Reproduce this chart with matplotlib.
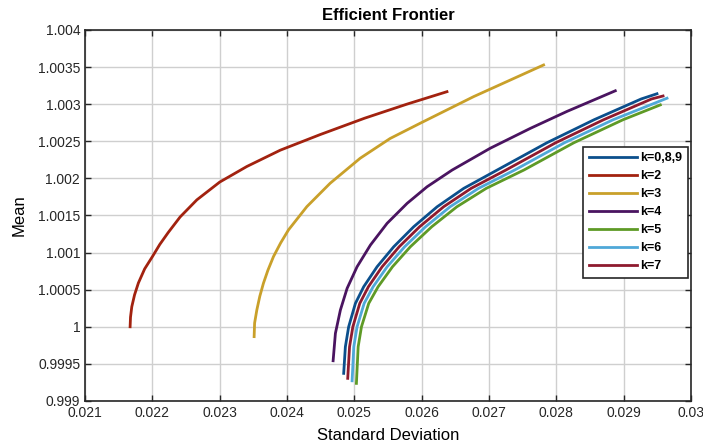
import matplotlib.pyplot as plt
from matplotlib.ticker import FuncFormatter, MultipleLocator

plt.rcParams['font.family'] = ['Liberation Sans', 'DejaVu Sans']

# efficient frontiers (std, mean)
std_k089 = [0.024841, 0.024866, 0.024915, 0.025015, 0.025138, 0.025337, 0.025584, 0.025881, 0.026229,
            0.026624, 0.02712, 0.02786, 0.02856, 0.02926, 0.029494]
mean_k089 = [0.999372, 0.99973, 1.0, 1.000315, 1.000539, 1.000809, 1.001078, 1.001348, 1.001617,
             1.001865, 1.002112, 1.00248, 1.00279, 1.00307, 1.00314]

std_k2 = [0.021669, 0.021675, 0.021694, 0.021735, 0.021792, 0.021885, 0.022, 0.02211, 0.022235,
          0.022412, 0.02266, 0.023, 0.023403, 0.0239, 0.024492, 0.02515, 0.02578, 0.026375]
mean_k2 = [1.0, 1.00013, 1.00027, 1.00043, 1.00059, 1.00078, 1.000945, 1.00111, 1.00127,
           1.00148, 1.00171, 1.00195, 1.00216, 1.00238, 1.00259, 1.00281, 1.003, 1.003168]

std_k3 = [0.023511, 0.023518, 0.023551, 0.023595, 0.023649, 0.023715, 0.023798, 0.023905, 0.024021,
          0.024294, 0.02464, 0.025086, 0.02553, 0.025978, 0.02677, 0.02781]
mean_k3 = [0.999867, 1.00005, 1.000226, 1.00041, 1.000586, 1.00076, 1.000945, 1.00113, 1.001305,
           1.001619, 1.001934, 1.002271, 1.002537, 1.002743, 1.003101, 1.003528]

std_k4 = [0.024684, 0.024718, 0.024792, 0.024892, 0.02504, 0.025238, 0.025486, 0.025783, 0.02608,
          0.026452, 0.027018, 0.027612, 0.028157, 0.028875]
mean_k4 = [0.999542, 0.999911, 1.000225, 1.000518, 1.000809, 1.001101, 1.001394, 1.001663, 1.001887,
           1.002112, 1.002406, 1.002673, 1.002902, 1.00318]

std_k5 = [0.02503, 0.025056, 0.025105, 0.025213, 0.025352, 0.025566, 0.025831, 0.026149, 0.026522,
          0.026958, 0.027517, 0.02826, 0.02899, 0.029544]
mean_k5 = [0.999237, 0.99973, 1.0, 1.000315, 1.000539, 1.000809, 1.001078, 1.001348, 1.001617,
           1.001865, 1.002112, 1.00248, 1.00279, 1.00299]

std_k6 = [0.024966, 0.024991, 0.02504, 0.025145, 0.025278, 0.025487, 0.025746, 0.026057, 0.026421,
          0.026843, 0.02738, 0.02812, 0.028843, 0.029643]
mean_k6 = [0.999272, 0.99973, 1.0, 1.000315, 1.000539, 1.000809, 1.001078, 1.001348, 1.001617,
           1.001865, 1.002112, 1.00248, 1.00279, 1.00308]

std_k7 = [0.024901, 0.024928, 0.024977, 0.02508, 0.025208, 0.025412, 0.025665, 0.025969, 0.026325,
          0.026734, 0.02725, 0.02799, 0.028701, 0.029414, 0.029584]
mean_k7 = [0.999305, 0.99973, 1.0, 1.000315, 1.000539, 1.000809, 1.001078, 1.001348, 1.001617,
           1.001865, 1.002112, 1.00248, 1.00279, 1.00307, 1.00311]

fig = plt.figure(figsize=(7.03, 4.47), dpi=100)
ax = fig.add_axes([0.121, 0.103, 0.862, 0.830])

lw = 2.0
ax.plot(std_k089, mean_k089, color='#0B4F8C', lw=lw, label='k=0,8,9')
ax.plot(std_k2, mean_k2, color='#A2220F', lw=lw, label='k=2')
ax.plot(std_k3, mean_k3, color='#C9A02A', lw=lw, label='k=3')
ax.plot(std_k4, mean_k4, color='#4A1460', lw=lw, label='k=4')
ax.plot(std_k5, mean_k5, color='#5E9A26', lw=lw, label='k=5')
ax.plot(std_k6, mean_k6, color='#4FA8D8', lw=lw, label='k=6')
ax.plot(std_k7, mean_k7, color='#8E1A2E', lw=lw, label='k=7')

ax.set_xlim(0.021, 0.030)
ax.set_ylim(0.999, 1.004)
ax.xaxis.set_major_locator(MultipleLocator(0.001))
ax.yaxis.set_major_locator(MultipleLocator(0.0005))
fmt = FuncFormatter(lambda v, p: '{:g}'.format(round(v, 6)))
ax.xaxis.set_major_formatter(fmt)
ax.yaxis.set_major_formatter(fmt)
ax.tick_params(direction='in', length=4, width=1, top=True, right=True, labelsize=10, colors='#262626')
ax.grid(True, color='#cfcfcf', lw=1)
ax.set_axisbelow(True)
for s in ax.spines.values():
    s.set_color('#262626')
    s.set_linewidth(1.2)

ax.set_title('Efficient Frontier', fontsize=12, fontweight='bold', pad=7)
ax.set_xlabel('Standard Deviation', fontsize=12, labelpad=6)
ax.set_ylabel('Mean', fontsize=12, labelpad=8)

leg = ax.legend(loc='upper right', bbox_to_anchor=(0.995, 0.685), fontsize=9, fancybox=False,
                framealpha=1, edgecolor='#262626', handlelength=3.85, handletextpad=0.3,
                labelspacing=0.48, borderpad=0.45, borderaxespad=0)
leg.get_frame().set_linewidth(1.2)
for t in leg.get_texts():
    t.set_fontweight('bold')

fig.savefig('out.png', dpi=100)
